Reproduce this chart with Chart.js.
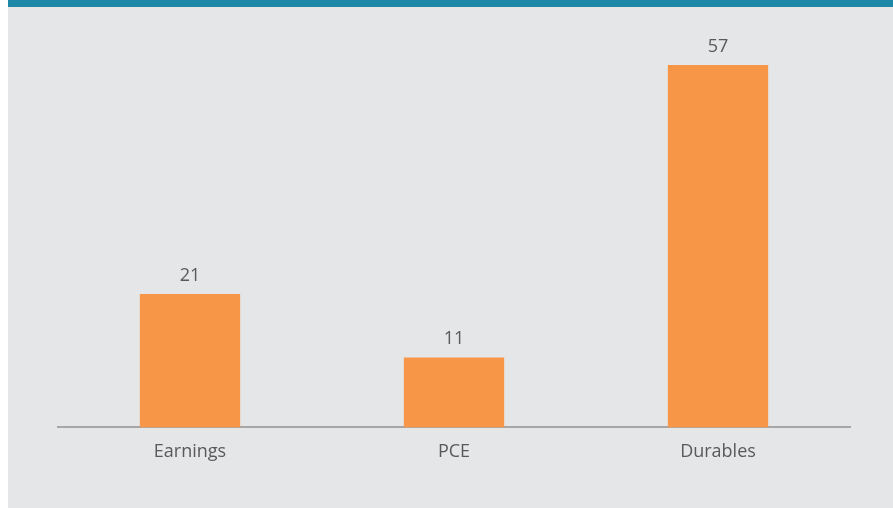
<!DOCTYPE html>
<html>
<head>
<meta charset="utf-8">
<script src="https://cdn.jsdelivr.net/npm/chart.js@4.4.1/dist/chart.umd.min.js"></script>
<style>
  html, body { margin: 0; padding: 0; background: #ffffff; }
  #panel {
    position: absolute; left: 8px; top: 0; width: 885px; height: 501px;
    background: #e5e6e8; border-top: 7px solid #1d87a7;
  }
  #chart { display: block; }
</style>
</head>
<body>
<div id="panel"><canvas id="chart" width="885" height="501"></canvas></div>
<script>
const categories = ['Earnings', 'PCE', 'Durables'];
const values = [21, 11, 57];

// Rótulos de valor acima de cada barra
const valueLabels = {
  id: 'valueLabels',
  afterDatasetsDraw(chart) {
    const ctx = chart.ctx;
    const meta = chart.getDatasetMeta(0);
    ctx.save();
    ctx.fillStyle = '#595959';
    ctx.font = '18px "Open Sans"';
    ctx.textAlign = 'center';
    ctx.textBaseline = 'alphabetic';
    meta.data.forEach((bar, i) => {
      ctx.fillText(String(values[i]), bar.x, bar.y - 13);
    });
    ctx.restore();
  }
};

new Chart(document.getElementById('chart').getContext('2d'), {
  type: 'bar',
  data: {
    labels: categories,
    datasets: [{
      data: values,
      backgroundColor: '#f79646',
      borderWidth: 0,
      categoryPercentage: 1,
      barPercentage: 0.38
    }]
  },
  options: {
    responsive: false,
    animation: false,
    layout: { padding: { left: 50, right: 43, top: 39, bottom: 31 } },
    plugins: { legend: { display: false }, tooltip: { enabled: false } },
    scales: {
      x: {
        grid: { display: false, drawTicks: false },
        border: { display: true, color: '#a6a6a6', width: 2 },
        ticks: { color: '#595959', font: { family: 'Open Sans', size: 18 }, padding: 14 }
      },
      y: {
        display: false,
        min: 0,
        max: 60
      }
    }
  },
  plugins: [valueLabels]
});
</script>
</body>
</html>
